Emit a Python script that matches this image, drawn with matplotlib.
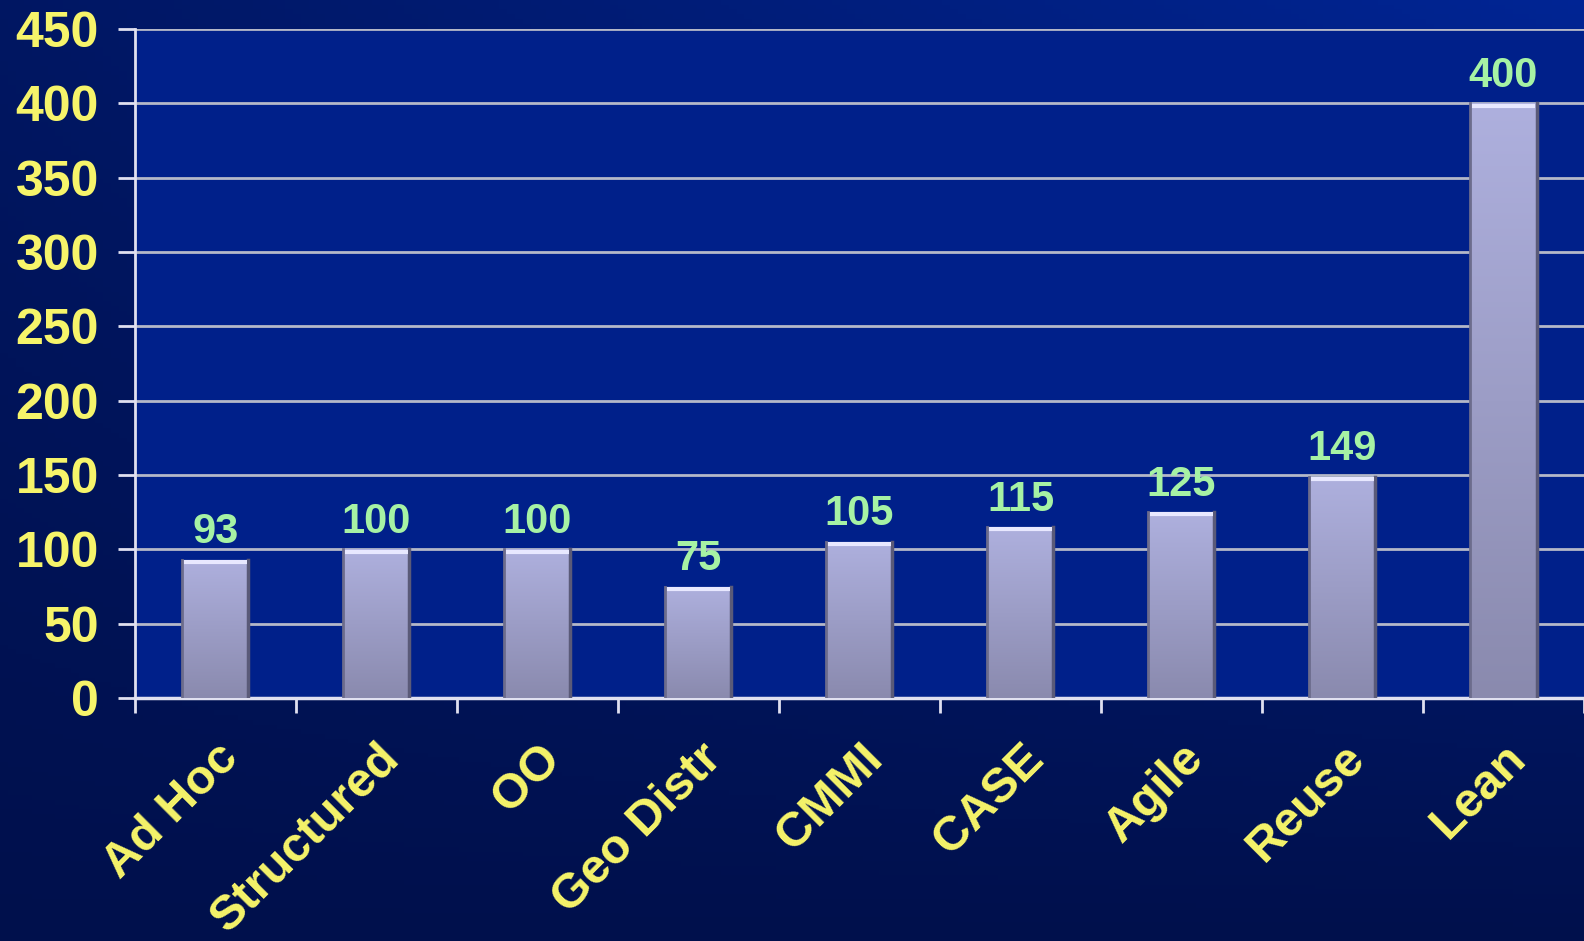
import numpy as np
import matplotlib.pyplot as plt
from matplotlib.colors import LinearSegmentedColormap

plt.rcParams.update({"font.family": ["Liberation Sans", "DejaVu Sans"],
                     "font.weight": "bold"})

categories = ["Ad Hoc", "Structured", "OO", "Geo Distr", "CMMI",
              "CASE", "Agile", "Reuse", "Lean"]
values = [93, 100, 100, 75, 105, 115, 125, 149, 400]
yticks = [0, 50, 100, 150, 200, 250, 300, 350, 400, 450]

YELLOW = "#f6f46a"
GREEN = "#a6f2a4"
GRID = "#b4b8c8"

fig = plt.figure(figsize=(15.84, 9.41), dpi=100)

# slide background: dark navy, brighter towards the top right
bg = fig.add_axes([0, 0, 1, 1], zorder=-10)
xx, yy = np.meshgrid(np.linspace(0, 1, 200), np.linspace(1, 0, 200))
shade = np.clip(0.55 * xx * yy + 0.25 * yy, 0, 1)
bg_cmap = LinearSegmentedColormap.from_list("bg", ["#00104c", "#002aa6"])
bg.imshow(shade, cmap=bg_cmap, aspect="auto", extent=[0, 1, 0, 1],
          vmin=0, vmax=1)
bg.set_axis_off()

ax = fig.add_axes([0.0852, 0.2582, 0.9148, 0.711])
ax.set_facecolor("#00208a")

x = np.arange(len(categories))
bars = ax.bar(x, values, width=0.41, color="none", edgecolor="none", zorder=3)

# lavender-to-grey vertical gradient inside each bar
bar_cmap = LinearSegmentedColormap.from_list("bar", ["#8a8aae", "#aeb0de"])
grad = np.linspace(0, 1, 256).reshape(-1, 1)
for b in bars:
    x0, w, h = b.get_x(), b.get_width(), b.get_height()
    im = ax.imshow(grad, cmap=bar_cmap, origin="lower", aspect="auto",
                   extent=[x0, x0 + w, 0, h], zorder=3)
    im.set_clip_path(b)
    # darker sides and a bright top rim
    ax.plot([x0, x0], [0, h], color="#6c6c8c", lw=2, zorder=4)
    ax.plot([x0 + w, x0 + w], [0, h], color="#5a5a78", lw=2.5, zorder=4)
    ax.plot([x0 + 0.01, x0 + w - 0.01], [h - 1.5, h - 1.5],
            color="#e8e8ff", lw=3, zorder=4, solid_capstyle="butt")
    ax.text(x0 + w / 2, h + 5, f"{h:g}", ha="center", va="bottom",
            color=GREEN, fontsize=30, fontweight="bold", zorder=5)

ax.set_xlim(-0.5, len(categories) - 0.5)
ax.set_ylim(0, 450)
ax.set_yticks(yticks)
ax.yaxis.grid(True, color=GRID, lw=2)
ax.set_axisbelow(True)

ax.set_xticks(np.arange(len(categories) + 1) - 0.5)
ax.set_xticklabels([])
ax.set_xticks(x, categories, minor=True)
ax.tick_params(axis="x", which="major", direction="out", length=11,
               width=2, color="#e0e0f0")
ax.tick_params(axis="x", which="minor", length=0, pad=27)
ax.tick_params(axis="y", direction="out", length=12, width=2,
               color="#e0e0f0", labelsize=36, labelcolor=YELLOW, pad=14)
for lbl in ax.get_xticklabels(minor=True):
    lbl.set_rotation(45)
    lbl.set_ha("right")
    lbl.set_rotation_mode("anchor")
    lbl.set_fontsize(35)
    lbl.set_color(YELLOW)
    lbl.set_fontweight("bold")

for side in ["top", "right"]:
    ax.spines[side].set_visible(False)
ax.spines["left"].set_color("#e0e0f0")
ax.spines["left"].set_linewidth(2)
ax.spines["bottom"].set_color("#e0e0f0")
ax.spines["bottom"].set_linewidth(2.5)

fig.savefig("out.png", dpi=100)
